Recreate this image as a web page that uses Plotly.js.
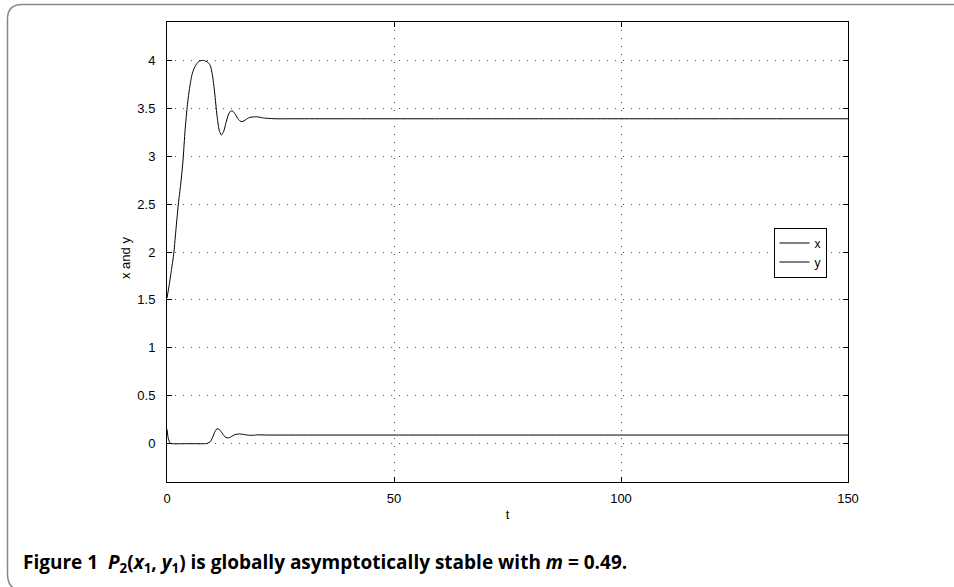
<!DOCTYPE html>
<html>
<head>
<meta charset="utf-8">
<script src="https://cdn.plot.ly/plotly-3.0.1.min.js"></script>
<style>
html,body{margin:0;padding:0;background:#fff;}
#chart{width:954px;height:587px;}
</style>
</head>
<body>
<div id="chart"></div>
<script>
// time samples for x(t)
const tX = [0, 0.5, 1, 1.5, 2, 2.5, 3, 3.5, 4, 4.5, 5, 5.5, 6, 6.5, 7, 8, 9, 9.5, 10, 10.5, 11, 11.5, 12, 12.5, 13, 13.5, 14, 14.5, 15, 15.5, 16, 16.5, 17, 18, 19, 20, 21, 22, 24, 26, 40, 60, 80, 100, 120, 150];
const xVals = [1.52, 1.66, 1.82, 1.99, 2.25, 2.50, 2.70, 2.94, 3.28, 3.54, 3.72, 3.85, 3.92, 3.96, 3.99, 4.00, 3.98, 3.95, 3.85, 3.66, 3.43, 3.27, 3.22, 3.26, 3.35, 3.43, 3.47, 3.47, 3.44, 3.40, 3.37, 3.36, 3.37, 3.40, 3.41, 3.41, 3.40, 3.395, 3.39, 3.39, 3.39, 3.39, 3.39, 3.39, 3.39, 3.39];
// time samples for y(t)
const tY = [0, 0.3, 0.7, 1, 5, 8.5, 9, 9.5, 10, 10.5, 11, 11.5, 12, 12.5, 13, 13.5, 14, 15, 16, 17, 18, 19, 20, 22, 30, 60, 100, 150];
const yVals = [0.15, 0.05, 0.005, 0.0, 0.0, 0.0, 0.005, 0.02, 0.06, 0.12, 0.155, 0.15, 0.12, 0.085, 0.065, 0.06, 0.07, 0.095, 0.102, 0.095, 0.088, 0.088, 0.092, 0.09, 0.09, 0.09, 0.09, 0.09];

const xTicks = [0, 50, 100, 150];
const yTicks = [0, 0.5, 1, 1.5, 2, 2.5, 3, 3.5, 4];
const yTickText = ['0', '0.5', '1', '1.5', '2', '2.5', '3', '3.5', '4'];

// plot area in pixels
const W = 954, H = 587;
const L = 167, R = 848, T = 22, B = 482;
const px = v => (v - L) / (R - L);
const py = v => (B - v) / (B - T);

const font = {family: 'Liberation Sans, Arial, sans-serif', size: 13, color: '#000'};

const border = 'M ' + px(954) + ' ' + py(4.5) +
  ' L ' + px(22) + ' ' + py(4.5) +
  ' Q ' + px(7.5) + ' ' + py(4.5) + ' ' + px(7.5) + ' ' + py(19) +
  ' L ' + px(7.5) + ' ' + py(574) +
  ' Q ' + px(7.5) + ' ' + py(590) + ' ' + px(22) + ' ' + py(590);

const traces = [
  {x: tX, y: xVals, name: 'x', mode: 'lines', line: {color: '#000', width: 1, shape: 'spline', smoothing: 0.6}},
  {x: tY, y: yVals, name: 'y', mode: 'lines', line: {color: '#000', width: 1, shape: 'spline', smoothing: 0.6}}
];

const layout = {
  width: W, height: H,
  margin: {l: L, r: W - R, t: T, b: H - B},
  paper_bgcolor: '#fff', plot_bgcolor: '#fff',
  font: font,
  showlegend: true,
  legend: {x: px(800), y: py(252.5), xanchor: 'center', yanchor: 'middle', bordercolor: '#000', borderwidth: 1,
           bgcolor: '#fff', font: {family: font.family, size: 12, color: '#000'}, tracegroupgap: 0,
           itemwidth: 30},
  xaxis: {range: [0, 150], tickvals: xTicks, ticktext: xTicks.map(String),
          showline: true, linecolor: '#000', linewidth: 1, mirror: 'ticks',
          ticks: 'inside', ticklen: 5, tickcolor: '#000', ticklabelstandoff: 4,
          showgrid: true, gridcolor: '#555', griddash: '1px,7px', gridwidth: 1, zeroline: false,
          title: {text: 't', font: font, standoff: 5}},
  yaxis: {range: [-0.4, 4.4], tickvals: yTicks, ticktext: yTickText,
          showline: true, linecolor: '#000', linewidth: 1, mirror: 'ticks',
          ticks: 'inside', ticklen: 5, tickcolor: '#000', ticklabelstandoff: 8,
          showgrid: true, gridcolor: '#555', griddash: '1px,7px', gridwidth: 1, zeroline: false},
  shapes: [
    {type: 'path', xref: 'paper', yref: 'paper', path: border, line: {color: '#888', width: 1.5}}
  ],
  annotations: [
    {xref: 'paper', yref: 'paper', x: px(125), y: py(258), xanchor: 'center', yanchor: 'middle', showarrow: false,
     textangle: -90, text: 'x and y', font: font},
    {xref: 'paper', yref: 'paper', x: px(21), y: py(563), xanchor: 'left', yanchor: 'middle', showarrow: false,
     text: '<b>Figure 1  <i>P</i><sub>2</sub>(<i>x</i><sub>1</sub>, <i>y</i><sub>1</sub>) is globally asymptotically stable with <i>m</i> = 0.49.</b>',
     font: {family: 'Open Sans, sans-serif', size: 19, color: '#000'}}
  ]
};

Plotly.newPlot('chart', traces, layout, {displayModeBar: false, staticPlot: true});
</script>
</body>
</html>
